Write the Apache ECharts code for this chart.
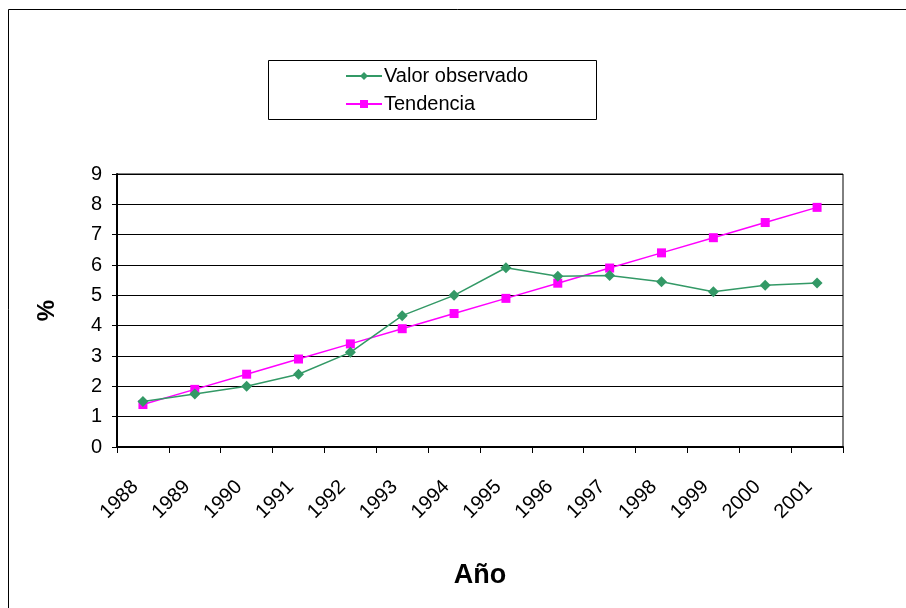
<!DOCTYPE html>
<html>
<head>
<meta charset="utf-8">
<script src="https://cdn.jsdelivr.net/npm/echarts@6/dist/echarts.min.js"></script>
<style>html,body{margin:0;padding:0;background:#fff;}#c{width:906px;height:608px;}</style>
</head>
<body>
<div id="c"></div>
<script>
const years = ['1988','1989','1990','1991','1992','1993','1994','1995','1996','1997','1998','1999','2000','2001'];
const observado = [1.5, 1.75, 2.0, 2.4, 3.12, 4.33, 5.0, 5.91, 5.63, 5.65, 5.45, 5.12, 5.33, 5.41];
const tendencia = [1.4, 1.9, 2.4, 2.9, 3.4, 3.9, 4.4, 4.9, 5.4, 5.9, 6.4, 6.9, 7.4, 7.9];
const yTicks = [0, 9, 1];

const FONT = 'Liberation Sans, Arial, sans-serif';
const chart = echarts.init(document.getElementById('c'), null, {renderer: 'canvas'});
chart.setOption({
  backgroundColor: '#fff',
  animation: false,
  graphic: [
    {type: 'rect', shape: {x: 8.5, y: 9.5, width: 1000, height: 1000}, style: {fill: 'none', stroke: '#000', lineWidth: 1}, z: -1},
    {type: 'rect', shape: {x: 268.5, y: 60.5, width: 328, height: 59}, style: {fill: '#fff', stroke: '#000', lineWidth: 1}, z: 0}
  ],
  legend: {
    orient: 'vertical',
    left: 340,
    top: 61,
    itemWidth: 36,
    itemHeight: 10,
    itemGap: 8,
    textStyle: {fontFamily: FONT, fontSize: 20, color: '#000', padding: [0,0,0,-3]},
    data: ['Valor observado', 'Tendencia'],
    z: 5
  },
  grid: {left: 117, right: 63, top: 174, bottom: 161, show: true, borderColor: '#000', borderWidth: 1, backgroundColor: '#fff'},
  xAxis: {
    type: 'category',
    data: years,
    boundaryGap: true,
    name: 'Año',
    nameLocation: 'middle',
    nameGap: 115,
    nameTextStyle: {fontFamily: FONT, fontSize: 27, fontWeight: 'bold', color: '#000'},
    axisLine: {lineStyle: {color: '#000', width: 2}},
    axisTick: {show: true, length: 6, lineStyle: {color: '#000'}},
    axisLabel: {rotate: 45, margin: 29, padding: [0, 11, 0, 0], fontFamily: FONT, fontSize: 20, color: '#000', interval: 0}
  },
  yAxis: {
    type: 'value',
    min: yTicks[0], max: yTicks[1], interval: yTicks[2],
    name: '%',
    nameLocation: 'middle',
    nameGap: 58,
    nameRotate: 90,
    nameTextStyle: {fontFamily: FONT, fontSize: 24, fontWeight: 'bold', color: '#000'},
    axisLine: {show: true, lineStyle: {color: '#000', width: 2}},
    axisTick: {show: true, length: 5, lineStyle: {color: '#000'}},
    axisLabel: {margin: 15, fontFamily: FONT, fontSize: 20, color: '#000'},
    splitLine: {show: true, lineStyle: {color: '#000', width: 1}}
  },
  series: [
    {
      name: 'Valor observado', type: 'line', data: observado,
      symbol: 'diamond', symbolSize: 11, showSymbol: true,
      lineStyle: {color: '#339966', width: 1.5},
      itemStyle: {color: '#339966'}, z: 3
    },
    {
      name: 'Tendencia', type: 'line', data: tendencia,
      symbol: 'rect', symbolSize: 9, showSymbol: true,
      lineStyle: {color: '#FF00FF', width: 1.5},
      itemStyle: {color: '#FF00FF'}, z: 2
    }
  ]
});
</script>
</body>
</html>
